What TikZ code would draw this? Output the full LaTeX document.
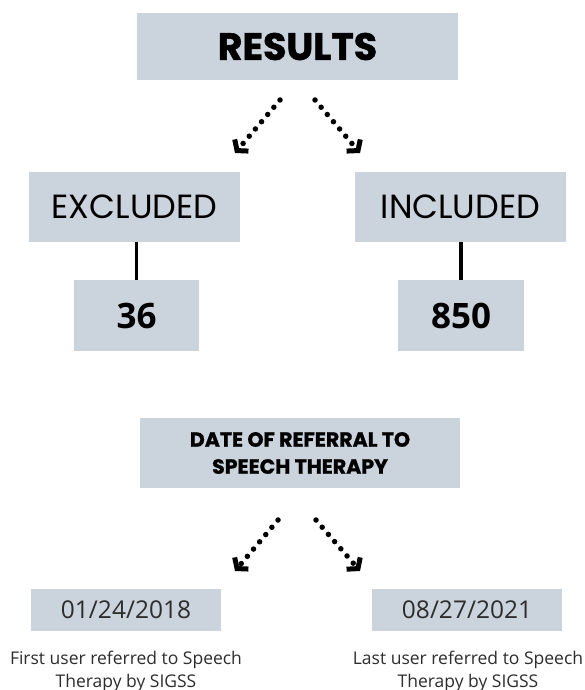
\documentclass[tikz,border=0pt]{standalone}
\usepackage{fontspec}
\setmainfont{Open Sans}
\newfontfamily\popf{Poppins}
\newfontfamily\popheavy{Poppins}[BoldFeatures={FakeBold=1.2}]
\usetikzlibrary{arrows.meta}
\definecolor{boxgray}{RGB}{203,211,221}
\definecolor{txtgray}{RGB}{45,45,45}
\tikzset{
  gbox/.style={fill=boxgray, draw=none, inner sep=0pt, align=center},
  dotarrow/.style={line width=5.5pt, line cap=round, dash pattern=on 0pt off 9.5pt,
    -{Straight Barb[length=7pt,width=18pt,line width=5pt]}},
  stem/.style={line width=3.8pt},
  caption/.style={align=center, text=txtgray, font=\fontsize{17.5}{23}\selectfont, inner sep=0pt}
}
\begin{document}
\begin{tikzpicture}[x=1pt,y=-1pt]
\useasboundingbox (0,0) rectangle (584,690);
\node[gbox, minimum width=321pt, minimum height=67pt, font=\popheavy\bfseries\fontsize{38}{44}\selectfont] (results) at (297.5,46.5) {RESULTS};
\node[gbox, minimum width=211pt, minimum height=70pt, font=\popf\fontsize{33.5}{38}\selectfont] (excl) at (134.5,207) {EXCLUDED};
\node[gbox, minimum width=211pt, minimum height=70pt, font=\popf\fontsize{33.5}{38}\selectfont] (incl) at (460.5,207) {INCLUDED};
\node[gbox, minimum width=125pt, minimum height=71pt, font=\bfseries\fontsize{35}{40}\selectfont] (n36) at (136.5,315.5) {36};
\node[gbox, minimum width=126pt, minimum height=71pt, font=\bfseries\fontsize{35}{40}\selectfont] (n850) at (461,315.5) {850};
\node[gbox, minimum width=320pt, minimum height=70pt, font=\popheavy\bfseries\fontsize{20.5}{27}\selectfont] (date) at (300,453) {DATE OF REFERRAL TO\\SPEECH THERAPY};
\node[gbox, minimum width=190pt, minimum height=42pt, text=txtgray, font=\fontsize{24.5}{28}\selectfont] (d1) at (126,610) {01/24/2018};
\node[gbox, minimum width=190pt, minimum height=42pt, text=txtgray, font=\fontsize{24.5}{28}\selectfont] (d2) at (467,610) {08/27/2021};
\node[caption] (cap1) at (126,671) {First user referred to Speech\\Therapy by SIGSS};
\node[caption] (cap2) at (468,671) {Last user referred to Speech\\Therapy by SIGSS};
\draw[stem] (excl.south -| n36.north) -- (n36.north);
\draw[stem] (incl.south -| n850.north) -- (n850.north);
\coordinate (r1) at (280,100);
\coordinate (r1e) at (235,153);
\coordinate (r2) at (315,100);
\coordinate (r2e) at (360,153);
\coordinate (q1) at (278,520);
\coordinate (q1e) at (235,571);
\coordinate (q2) at (316,520);
\coordinate (q2e) at (360,571);
\draw[dotarrow] (r1) -- (r1e);
\draw[dotarrow] (r2) -- (r2e);
\draw[dotarrow] (q1) -- (q1e);
\draw[dotarrow] (q2) -- (q2e);
\end{tikzpicture}
\end{document}
